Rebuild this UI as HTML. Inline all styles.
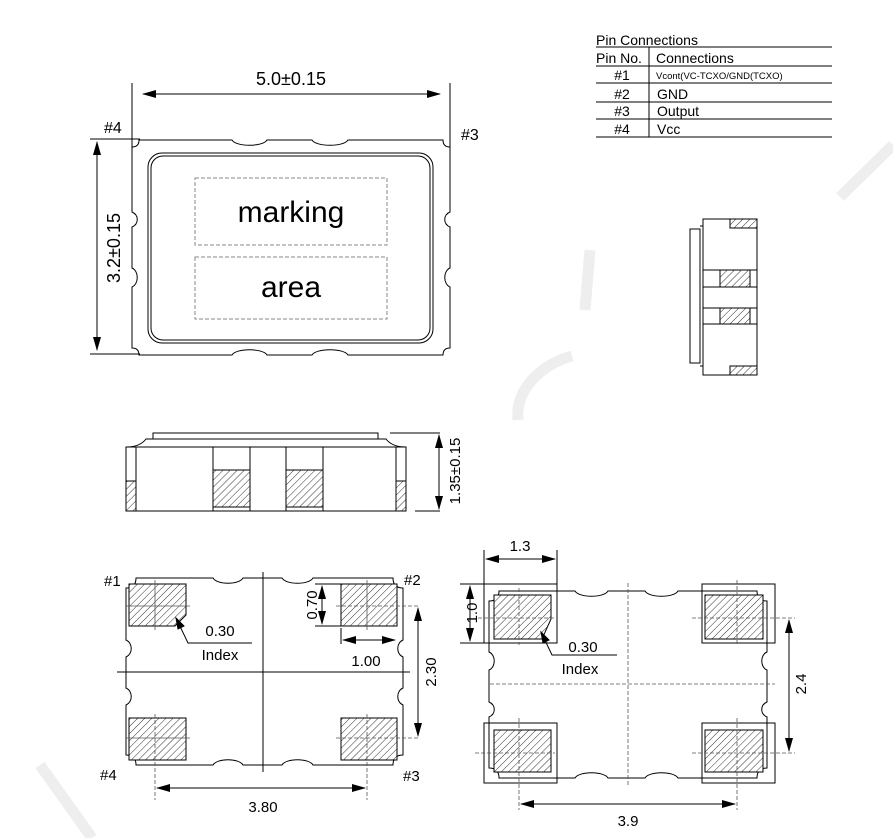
<!DOCTYPE html>
<html><head><meta charset="utf-8"><style>
html,body{margin:0;padding:0;background:#fff;}
svg{display:block;font-family:"Liberation Sans",Arial,sans-serif;}
</style></head><body>
<svg width="893" height="838" viewBox="0 0 893 838" xmlns="http://www.w3.org/2000/svg">
<defs>
<pattern id="h" patternUnits="userSpaceOnUse" width="5" height="5" patternTransform="rotate(45)">
<rect width="5" height="5" fill="#fff"/><line x1="0" y1="0" x2="0" y2="5" stroke="#333" stroke-width="1"/>
</pattern>
<marker id="a" markerWidth="14" markerHeight="8" refX="13" refY="4" orient="auto" markerUnits="userSpaceOnUse">
<path d="M0,0 L14,4 L0,8 Z" fill="#000"/></marker>
<marker id="b" markerWidth="14" markerHeight="8" refX="1" refY="4" orient="auto" markerUnits="userSpaceOnUse">
<path d="M14,0 L0,4 L14,8 Z" fill="#000"/></marker>
</defs>

<!-- watermark -->
<g stroke="#eeeeee" stroke-width="11" fill="none" stroke-linecap="butt">
<path d="M893,145 L840,197"/>
<path d="M590,250 L585,310"/>
<path d="M572,356 C540,365 515,390 518,420"/>
<path d="M40,765 L92,838"/>
</g>

<g fill="none" stroke="#000" stroke-width="1">
<!-- top view -->
<path d="M139,140 H232 C236,147 263,147 267,140 H312 C316,147 344,147 348,140 H443 Q443,147 450,147 V212 C443,215 443,224 450,227 V268 C443,271 443,284 450,287 V348 Q443,348 443,355 H348 C344,348 316,348 312,355 H267 C263,348 236,348 232,355 H139 Q139,348 132,348 V287 C139,284 139,271 132,268 V227 C139,224 139,215 132,212 V147 Q139,147 139,140 Z"/>
<rect x="148" y="153" width="285" height="190" rx="14"/>
<rect x="151" y="156" width="279" height="184" rx="12"/>
<rect x="195" y="178" width="192" height="67" stroke="#888" stroke-dasharray="4,2"/>
<rect x="195" y="257" width="192" height="62" stroke="#888" stroke-dasharray="4,2"/>
<line x1="132" y1="83" x2="132" y2="148"/><line x1="450" y1="83" x2="450" y2="148"/>
<line x1="143" y1="94" x2="440" y2="94" marker-start="url(#b)" marker-end="url(#a)"/>
<line x1="90" y1="139" x2="140" y2="139"/><line x1="90" y1="354" x2="140" y2="354"/>
<line x1="97" y1="142" x2="97" y2="350" marker-start="url(#b)" marker-end="url(#a)"/>

<!-- table -->
<line x1="596" y1="47" x2="832" y2="47"/><line x1="596" y1="66" x2="832" y2="66"/>
<line x1="596" y1="83" x2="832" y2="83"/><line x1="596" y1="102" x2="832" y2="102"/>
<line x1="596" y1="119" x2="832" y2="119"/><line x1="596" y1="137" x2="832" y2="137"/>
<line x1="649" y1="47" x2="649" y2="137"/>

<!-- right side view -->
<rect x="703" y="219" width="54" height="156"/>
<rect x="690" y="229" width="10" height="134"/>
<line x1="700" y1="226" x2="703" y2="226"/><line x1="700" y1="366" x2="703" y2="366"/>
<rect x="730" y="219" width="27" height="9" fill="url(#h)"/>
<rect x="730" y="366" width="27" height="9" fill="url(#h)"/>
<rect x="703" y="270" width="54" height="17"/><rect x="720" y="270" width="30" height="17" fill="url(#h)"/>
<rect x="703" y="308" width="54" height="16"/><rect x="720" y="308" width="30" height="16" fill="url(#h)"/>

<!-- front view -->
<rect x="153" y="433" width="225" height="6"/>
<path d="M126,447 Q140,447 146,439 H386 Q392,447 406,447"/>
<rect x="126" y="447" width="280" height="64"/>
<line x1="136" y1="447" x2="136" y2="511"/><line x1="396" y1="447" x2="396" y2="511"/>
<rect x="126" y="481" width="10" height="30" fill="url(#h)"/>
<rect x="396" y="481" width="10" height="30" fill="url(#h)"/>
<rect x="213" y="447" width="37" height="64"/><rect x="213" y="470" width="37" height="37" fill="url(#h)"/>
<rect x="286" y="447" width="37" height="64"/><rect x="286" y="470" width="37" height="37" fill="url(#h)"/>
<line x1="390" y1="433" x2="440" y2="433"/><line x1="415" y1="511" x2="440" y2="511"/>
<line x1="439" y1="435" x2="439" y2="509" marker-start="url(#b)" marker-end="url(#a)"/>

<!-- bottom view left -->
<path d="M136,578 H213 C217,585 239,585 243,578 H282 C286,585 309,585 313,578 H393 Q393,588 403,588 V640 C396,643 396,654 403,657 V688 C396,691 396,702 403,705 V755 Q393,755 393,765 H313 C309,758 286,758 282,765 H243 C239,758 217,758 213,765 H136 Q136,755 126,755 V705 C133,702 133,691 126,688 V657 C133,654 133,643 126,640 V588 Q136,588 136,578 Z"/>
<path d="M129,584 H186 V615 L175,626 H129 Z" fill="url(#h)"/>
<rect x="341" y="584" width="56" height="42" fill="url(#h)"/>
<rect x="129" y="718" width="57" height="42" fill="url(#h)"/>
<rect x="341" y="718" width="56" height="42" fill="url(#h)"/>
<g stroke="#555" stroke-width="0.8">
<line x1="155" y1="580" x2="155" y2="630"/><line x1="126" y1="606" x2="190" y2="606"/>
<line x1="367" y1="580" x2="367" y2="630"/><line x1="336" y1="606" x2="420" y2="606" stroke-dasharray="4,2"/>
<line x1="155" y1="714" x2="155" y2="800" stroke-dasharray="4,2"/><line x1="126" y1="738" x2="190" y2="738"/>
<line x1="367" y1="714" x2="367" y2="800" stroke-dasharray="4,2"/><line x1="336" y1="738" x2="420" y2="738" stroke-dasharray="4,2"/>
</g>
<line x1="263" y1="572" x2="263" y2="772"/><line x1="117" y1="672" x2="410" y2="672"/>
<path d="M252,643 H188 L176,618"/><path d="M176,618 L178,629 L184,626 Z" fill="#000"/>
<line x1="315" y1="584" x2="341" y2="584"/><line x1="315" y1="626" x2="341" y2="626"/>
<line x1="322" y1="586" x2="322" y2="624" marker-start="url(#b)" marker-end="url(#a)"/>
<line x1="341" y1="628" x2="341" y2="644"/>
<line x1="343" y1="640" x2="395" y2="640" marker-start="url(#b)" marker-end="url(#a)"/>
<line x1="418" y1="608" x2="418" y2="736" marker-start="url(#b)" marker-end="url(#a)"/>
<line x1="157" y1="788" x2="365" y2="788" marker-start="url(#b)" marker-end="url(#a)"/>

<!-- bottom view right -->
<rect x="484" y="584" width="73" height="59"/><rect x="702" y="584" width="73" height="59"/>
<rect x="484" y="723" width="73" height="60"/><rect x="702" y="723" width="73" height="60"/>
<path d="M499,591 H575 C579,598 604,598 608,591 H645 C649,598 674,598 678,591 H757 Q757,601 767,601 V652 C760,655 760,667 767,670 V702 C760,705 760,714 767,717 V768 Q757,768 757,778 H678 C674,771 649,771 645,778 H608 C604,771 579,771 575,778 H499 Q499,768 489,768 V717 C496,714 496,705 489,702 V670 C496,667 496,655 489,652 V601 Q499,601 499,591 Z"/>
<path d="M494,595 H551 V619 L542,639 H494 Z" fill="url(#h)"/>
<rect x="705" y="595" width="58" height="44" fill="url(#h)"/>
<rect x="494" y="730" width="57" height="42" fill="url(#h)"/>
<rect x="705" y="730" width="58" height="42" fill="url(#h)"/>
<g stroke="#555" stroke-width="0.8" stroke-dasharray="4,2">
<line x1="628" y1="583" x2="628" y2="787"/><line x1="490" y1="684" x2="775" y2="684"/>
<line x1="519" y1="588" x2="519" y2="645"/><line x1="519" y1="718" x2="519" y2="810"/>
<line x1="737" y1="580" x2="737" y2="645"/><line x1="737" y1="718" x2="737" y2="810"/>
<line x1="478" y1="618" x2="555" y2="618"/><line x1="692" y1="618" x2="795" y2="618"/>
<line x1="475" y1="753" x2="555" y2="753"/><line x1="692" y1="753" x2="795" y2="753"/>
</g>
<line x1="484" y1="550" x2="484" y2="584"/><line x1="557" y1="550" x2="557" y2="584"/>
<line x1="486" y1="559" x2="555" y2="559" marker-start="url(#b)" marker-end="url(#a)"/>
<line x1="460" y1="584" x2="484" y2="584"/><line x1="460" y1="643" x2="484" y2="643"/>
<line x1="470" y1="586" x2="470" y2="641" marker-start="url(#b)" marker-end="url(#a)"/>
<path d="M617,655 H552 L541,632"/><path d="M541,632 L543,643 L549,640 Z" fill="#000"/>
<line x1="789" y1="620" x2="789" y2="751" marker-start="url(#b)" marker-end="url(#a)"/>
<line x1="521" y1="804" x2="735" y2="804" marker-start="url(#b)" marker-end="url(#a)"/>
</g>

<g fill="#000">
<text x="291" y="85" font-size="18" text-anchor="middle">5.0±0.15</text>
<text x="291" y="222" font-size="30" text-anchor="middle">marking</text>
<text x="291" y="297" font-size="30" text-anchor="middle">area</text>
<text x="104" y="133" font-size="16">#4</text>
<text x="461" y="140" font-size="16">#3</text>
<text transform="translate(120,248) rotate(-90)" font-size="18" text-anchor="middle">3.2±0.15</text>

<text x="596" y="45" font-size="14">Pin Connections</text>
<text x="596" y="63" font-size="14">Pin No.</text>
<text x="656" y="63" font-size="14">Connections</text>
<text x="622" y="80" font-size="14" text-anchor="middle">#1</text>
<text x="656" y="79" font-size="9.5">Vcont(VC-TCXO/GND(TCXO)</text>
<text x="622" y="99" font-size="14" text-anchor="middle">#2</text>
<text x="657" y="99" font-size="14">GND</text>
<text x="622" y="116" font-size="14" text-anchor="middle">#3</text>
<text x="657" y="116" font-size="14">Output</text>
<text x="622" y="134" font-size="14" text-anchor="middle">#4</text>
<text x="657" y="134" font-size="14">Vcc</text>

<text transform="translate(460,471) rotate(-90)" font-size="15" text-anchor="middle">1.35±0.15</text>

<text x="104" y="586" font-size="15">#1</text>
<text x="404" y="585" font-size="15">#2</text>
<text x="100" y="780" font-size="15">#4</text>
<text x="403" y="781" font-size="15">#3</text>
<text x="220" y="636" font-size="15" text-anchor="middle">0.30</text>
<text x="220" y="660" font-size="15" text-anchor="middle">Index</text>
<text transform="translate(317,605) rotate(-90)" font-size="15" text-anchor="middle">0.70</text>
<text x="366" y="666" font-size="15" text-anchor="middle">1.00</text>
<text transform="translate(436,672) rotate(-90)" font-size="15" text-anchor="middle">2.30</text>
<text x="263" y="812" font-size="15" text-anchor="middle">3.80</text>

<text x="520" y="551" font-size="15" text-anchor="middle">1.3</text>
<text transform="translate(477,613) rotate(-90)" font-size="15" text-anchor="middle">1.0</text>
<text x="583" y="652" font-size="15" text-anchor="middle">0.30</text>
<text x="580" y="674" font-size="15" text-anchor="middle">Index</text>
<text transform="translate(806,684) rotate(-90)" font-size="15" text-anchor="middle">2.4</text>
<text x="628" y="826" font-size="15" text-anchor="middle">3.9</text>
</g>
</svg>
</body></html>
